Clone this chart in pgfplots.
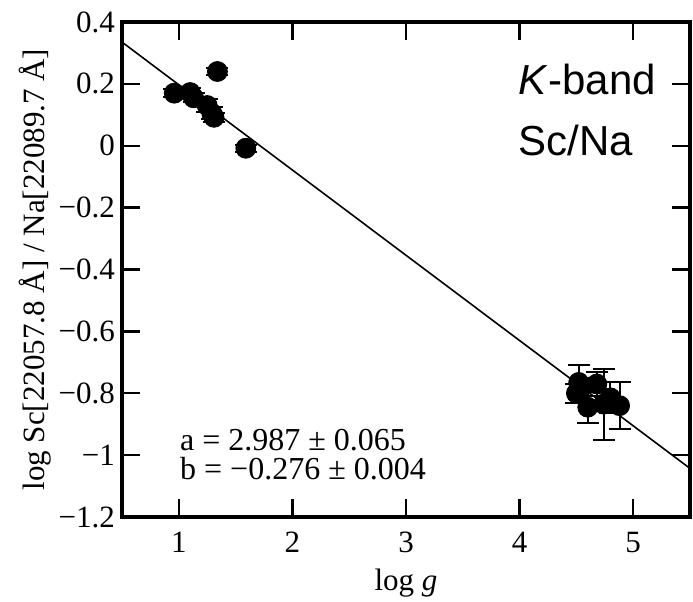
\documentclass[border=0pt]{standalone}
\usepackage{fontspec}
\setmainfont{Liberation Serif}
\newfontfamily\arial{Liberation Sans}
\usepackage{pgfplots}
\pgfplotsset{compat=1.18}
\usetikzlibrary{calc}
\begin{document}
\begin{tikzpicture}
\begin{axis}[
  scale only axis, width=284pt, height=247.5pt,
  xmin=0.5, xmax=5.5, ymin=-1.2, ymax=0.4,
  xtick={1,2,3,4,5},
  ytick={-1.2,-1,-0.8,-0.6,-0.4,-0.2,0,0.2,0.4},
  yticklabels={−1.2,−1,−0.8,−0.6,−0.4,−0.2,0,0.2,0.4},
  xticklabels={1,2,3,4,5},
  tick align=inside, major tick length=9pt,
  tick style={line width=1.2pt, black},
  axis line style={line width=1.6pt},
  ticklabel style={font=\fontsize{15.5}{17}\selectfont},
  xticklabel style={yshift=-4pt},
  label style={font=\fontsize{15.5}{17}\selectfont},
  xlabel={log \textit{g}},
  ylabel={log Sc[22057.8 Å] / Na[22089.7 Å]},
  xlabel style={yshift=-1pt},
  ylabel style={yshift=-3pt},
  clip=true,
]
\coordinate (bl) at (rel axis cs:0,0);
\coordinate (tr) at (rel axis cs:1,1);
\addplot[black, line width=0.8pt] coordinates {(0.5,0.335) (5.5,-1.043)};
\addplot[only marks, mark=*, mark size=5pt, mark options={fill=black, draw=black},
  error bars/.cd, y dir=both, y explicit,
  error bar style={line width=1pt, black},
  error mark options={rotate=90, mark size=5.5pt, line width=1pt}]
  table[x=x, y=y, y error=e] {
  x     y       e
  0.96  0.170   0.012
  1.10  0.172   0.015
  1.13  0.155   0.015
  1.25  0.130   0.020
  1.29  0.105   0.020
  1.31  0.092   0.015
  1.34  0.240   0.012
  1.59  -0.008  0.012
  4.52  -0.765  0.055
  4.50  -0.800  0.030
  4.55  -0.780  0.030
  4.60  -0.845  0.050
  4.68  -0.770  0.040
  4.74  -0.835  0.115
  4.80  -0.815  0.050
  4.88  -0.840  0.077
  };
\node[anchor=west, font=\fontsize{16}{17}\selectfont] at (axis cs:0.95,-0.95) {a = 2.987 ± 0.065};
\node[anchor=west, font=\fontsize{16}{17}\selectfont] at (axis cs:0.95,-1.045) {b = −0.276 ± 0.004};
\node[anchor=north west, align=left, font=\arial\fontsize{21}{30.5}\selectfont, inner sep=0pt] at (axis cs:3.99,0.265) {\textit{K}-band\\Sc/Na};
\end{axis}
\pgfresetboundingbox
\path ($(bl)+(-61pt,-42pt)$) rectangle ($(tr)+(1.5pt,11pt)$);
\end{tikzpicture}
\end{document}
